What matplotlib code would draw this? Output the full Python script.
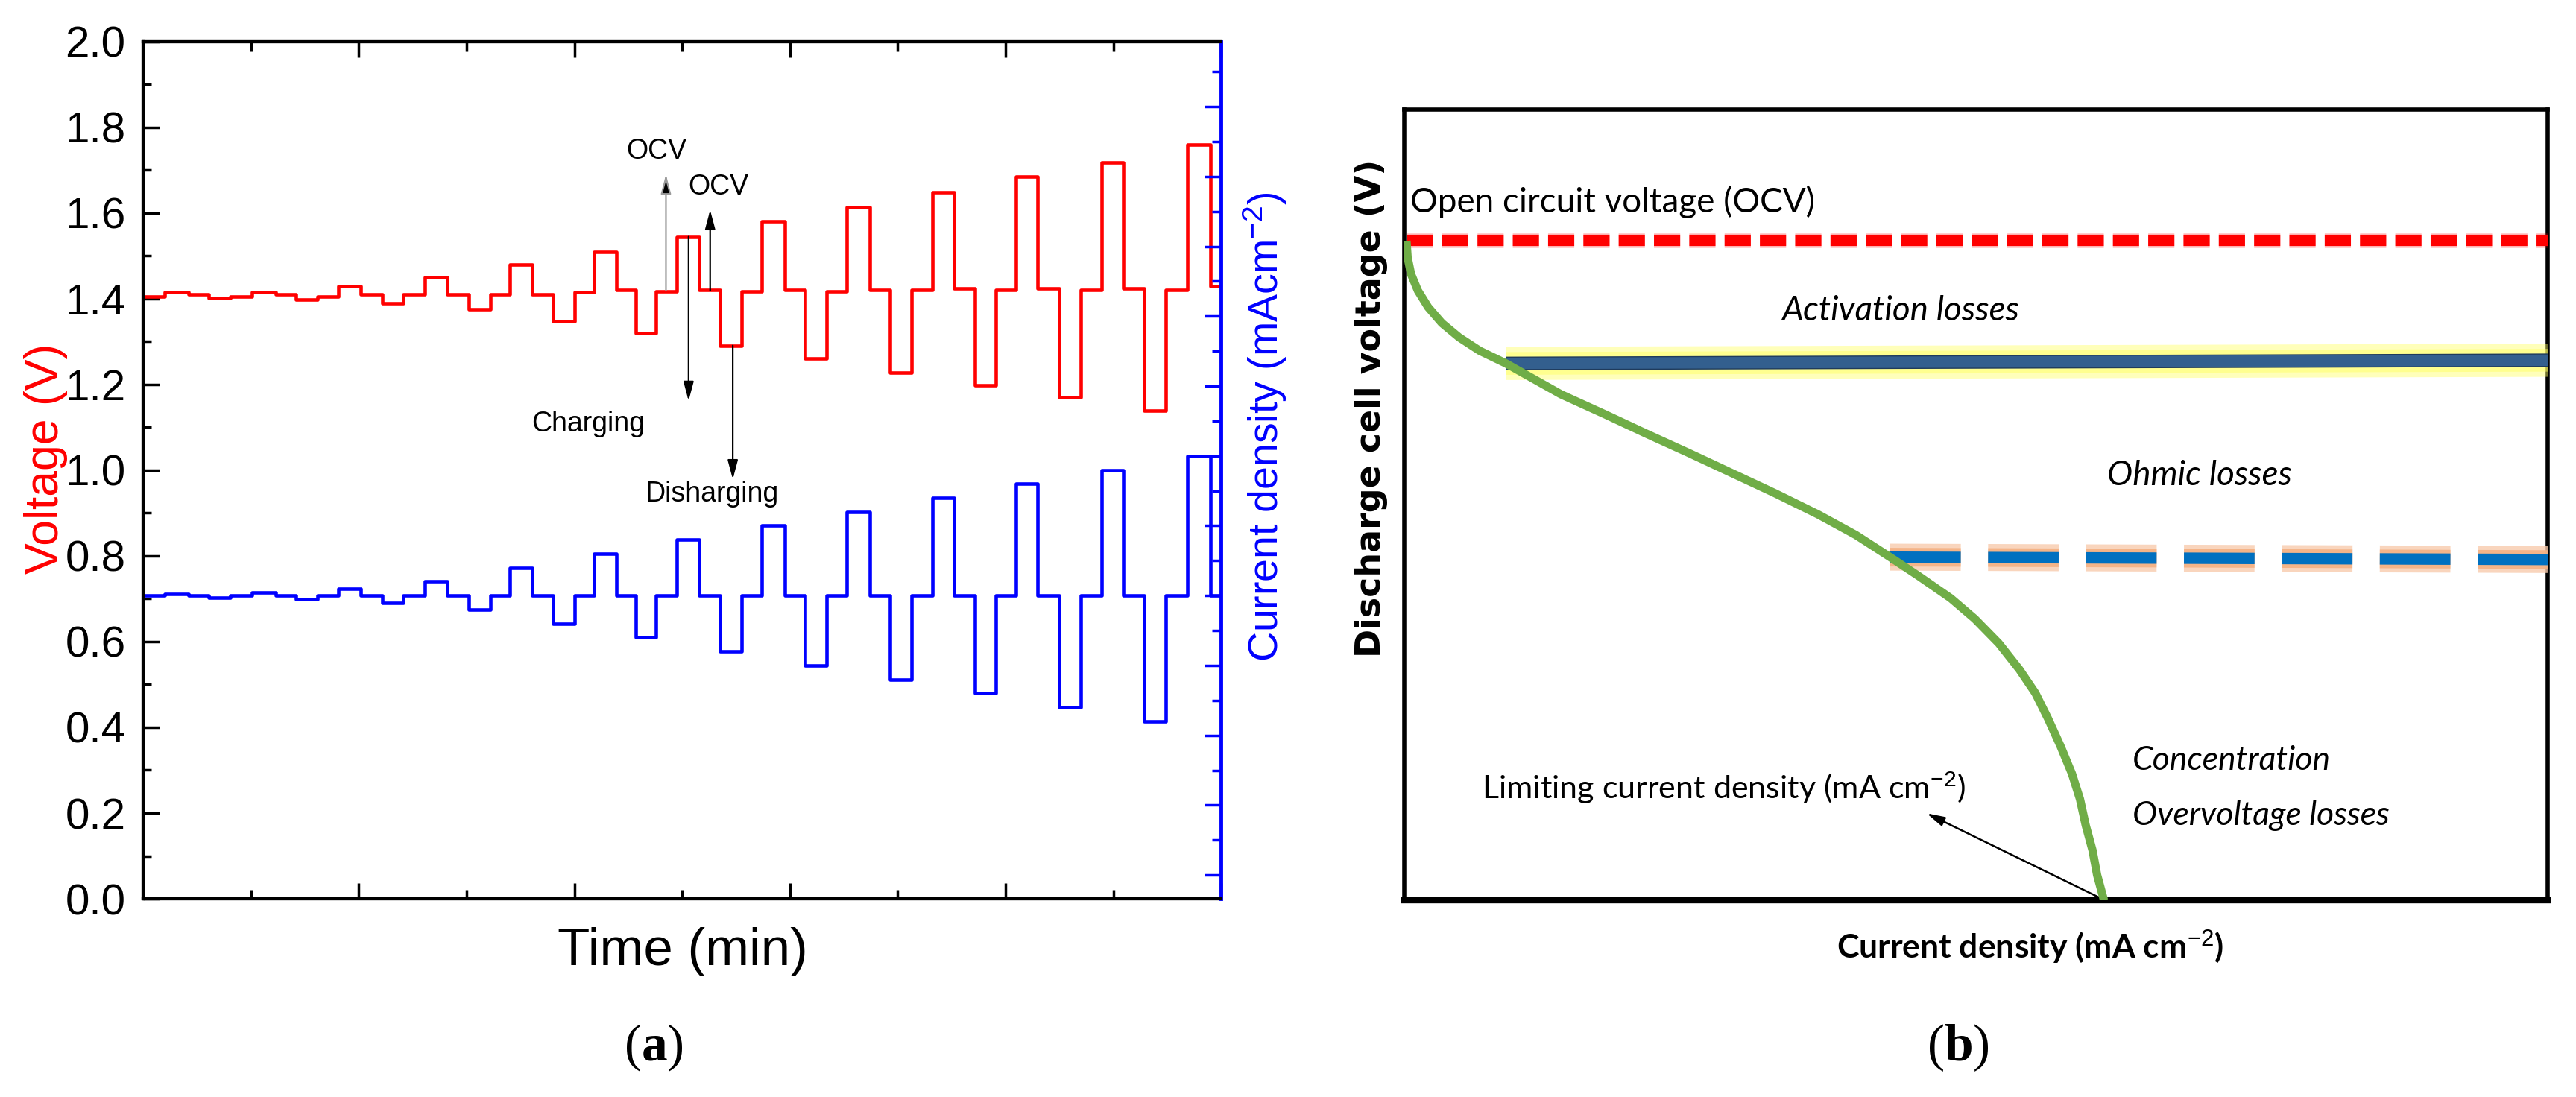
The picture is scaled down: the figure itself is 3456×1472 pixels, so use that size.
import matplotlib
matplotlib.use("Agg")
import matplotlib.pyplot as plt
import matplotlib.patheffects as pe
from matplotlib.ticker import MultipleLocator, FormatStrFormatter

# ---------------- panel (a): step test, time axis in arbitrary minutes 0-100
charge_on = [2.0, 10.1, 18.1, 26.1, 34.0, 41.8, 49.5, 57.4, 65.3, 73.2, 81.0, 88.9, 96.9]
charge_off = [4.2, 12.3, 20.2, 28.2, 36.1, 43.9, 51.6, 59.5, 67.4, 75.2, 83.0, 90.9, 99.0]
discharge_on = [6.1, 14.2, 22.2, 30.2, 38.0, 45.7, 53.5, 61.4, 69.3, 77.2, 85.0, 92.9]
discharge_off = [8.1, 16.2, 24.1, 32.2, 40.0, 47.6, 55.5, 63.4, 71.3, 79.1, 87.0, 94.9]

v_start = 1.405
v_charge = [1.415, 1.415, 1.43, 1.45, 1.48, 1.51, 1.545, 1.58, 1.613, 1.649, 1.685, 1.718, 1.76]
v_rest_after_charge = [1.41, 1.41, 1.41, 1.41, 1.41, 1.42, 1.42, 1.42, 1.42, 1.425, 1.425, 1.425, 1.43]
v_discharge = [1.402, 1.398, 1.39, 1.375, 1.348, 1.32, 1.291, 1.26, 1.227, 1.199, 1.171, 1.139]
v_rest_after_discharge = [1.405, 1.405, 1.41, 1.41, 1.415, 1.418, 1.418, 1.418, 1.42, 1.42, 1.42, 1.42]

# current density steps (mA cm-2), same magnitude for charge and discharge
i_step = [0.25, 0.5, 1, 2, 4, 6, 8, 10, 12, 14, 16, 18, 20]

ocv_notes = [(48.5, 1.419, 1.690, 47.6, 1.744, '#9a9a9a'), (52.6, 1.419, 1.607, 53.4, 1.661, 'black')]

# ---------------- panel (b): schematic polarisation curve (axes fraction units)
pol_current = [0.002, 0.003, 0.006, 0.012, 0.021, 0.033, 0.048, 0.066, 0.089, 0.137,
               0.175, 0.212, 0.250, 0.287, 0.324, 0.362, 0.395, 0.425, 0.450, 0.478,
               0.499, 0.520, 0.538, 0.552, 0.563, 0.574, 0.584, 0.591, 0.596, 0.602,
               0.606, 0.612]
pol_voltage = [0.834, 0.813, 0.792, 0.771, 0.750, 0.730, 0.712, 0.695, 0.679, 0.640,
               0.615, 0.590, 0.565, 0.540, 0.515, 0.488, 0.462, 0.434, 0.410, 0.382,
               0.356, 0.325, 0.292, 0.262, 0.230, 0.195, 0.160, 0.128, 0.095, 0.063,
               0.032, 0.000]
ocv_level = 0.835
act_x, act_y = [0.089, 1.0], [0.679, 0.683]
ohm_x, ohm_y = [0.425, 1.0], [0.434, 0.431]
limit_current = 0.610

plt.rcParams['font.family'] = ['Liberation Sans', 'DejaVu Sans']
plt.rcParams['mathtext.fontset'] = 'custom'
plt.rcParams['mathtext.rm'] = 'Liberation Sans'
plt.rcParams['mathtext.it'] = 'Liberation Sans:italic'
plt.rcParams['mathtext.bf'] = 'Liberation Serif:bold'

fig = plt.figure(figsize=(34.56, 14.72), dpi=100)

# build step series
t, v, cur = [0.0], [v_start], [0.0]
for k in range(len(charge_on)):
    t += [charge_on[k], charge_off[k]]
    v += [v_charge[k], v_rest_after_charge[k]]
    cur += [i_step[k], 0.0]
    if k < len(discharge_on):
        t += [discharge_on[k], discharge_off[k]]
        v += [v_discharge[k], v_rest_after_discharge[k]]
        cur += [-i_step[k], 0.0]
t.append(100.0)
v.append(v[-1])
cur.append(0.0)

ax = fig.add_axes([0.0556, 0.1807, 0.4184, 0.7813])
ax2 = ax.twinx()
ax.plot(t, v, drawstyle='steps-post', color='#ff0000', lw=3.3)
ax2.plot(t, cur, drawstyle='steps-post', color='#0000ff', lw=3.3)

ax.set_xlim(0, 100)
ax.set_ylim(0, 2.0)
ax2.set_ylim(-43.4, 79.3)
ax.xaxis.set_major_locator(MultipleLocator(20))
ax.xaxis.set_minor_locator(MultipleLocator(10))
ax.yaxis.set_major_locator(MultipleLocator(0.2))
ax.yaxis.set_minor_locator(MultipleLocator(0.1))
ax.yaxis.set_major_formatter(FormatStrFormatter('%.1f'))
ax2.yaxis.set_major_locator(MultipleLocator(10))
ax2.yaxis.set_minor_locator(MultipleLocator(5))

ax.tick_params(axis='x', which='both', direction='in', top=True, bottom=True,
               labelbottom=False, width=2.5)
ax.tick_params(axis='x', which='major', length=15)
ax.tick_params(axis='x', which='minor', length=9)
ax.tick_params(axis='y', which='both', direction='in', right=False, width=2.5)
ax.tick_params(axis='y', which='major', length=16, labelsize=42, pad=17)
ax.tick_params(axis='y', which='minor', length=8)
ax2.tick_params(axis='y', which='both', direction='in', colors='#0000ff', labelright=False, width=2.5)
ax2.tick_params(axis='y', which='major', length=16)
ax2.tick_params(axis='y', which='minor', length=9)
for s in ['left', 'top', 'bottom']:
    ax.spines[s].set_linewidth(3)
    ax2.spines[s].set_linewidth(3)
ax2.spines['right'].set_color('#0000ff')
ax2.spines['right'].set_linewidth(3.5)

for xa, y0, y1, xt, yt, lc in ocv_notes:
    ax.annotate('', xy=(xa, y1), xytext=(xa, y0),
                arrowprops=dict(arrowstyle='-|>,head_length=0.6,head_width=0.16',
                                mutation_scale=26, ec=lc, fc='black', lw=1.6, shrinkA=0, shrinkB=0))
    ax.text(xt, yt, 'OCV', fontsize=27, ha='center', va='center')

ax.annotate('', xy=(50.6, 1.162), xytext=(50.6, 1.545),
            arrowprops=dict(arrowstyle='-|>,head_length=0.6,head_width=0.16',
                            mutation_scale=26, color='black', lw=1.6, shrinkA=0, shrinkB=0))
ax.annotate('', xy=(54.7, 0.979), xytext=(54.7, 1.291),
            arrowprops=dict(arrowstyle='-|>,head_length=0.6,head_width=0.16',
                            mutation_scale=26, color='black', lw=1.6, shrinkA=0, shrinkB=0))
ax.text(41.3, 1.108, 'Charging', fontsize=27, ha='center', va='center')
ax.text(52.8, 0.945, 'Disharging', fontsize=27, ha='center', va='center')

fig.text(0.0179, 0.582, 'Voltage (V)', color='#ff0000', fontsize=45,
         rotation=90, ha='center', va='center')
fig.text(0.491, 0.611, 'Current density (mAcm$^{-2}$)', color='#0000ff', fontsize=40,
         rotation=90, ha='center', va='center')
fig.text(0.265, 0.1325, 'Time (min)', fontsize=51, ha='center', va='center')
fig.text(0.2538, 0.045, r'($\mathbf{a}$)', fontsize=50, ha='center', va='center',
         family='Liberation Serif')

# ---------------- panel (b)
narrow = ['Lato', 'DejaVu Sans']
axb = fig.add_axes([0.5451, 0.1793, 0.4439, 0.7208])
axb.set_xlim(0, 1)
axb.set_ylim(0, 1)
axb.set_xticks([])
axb.set_yticks([])
for s in ['left', 'top', 'right']:
    axb.spines[s].set_linewidth(4)
axb.spines['bottom'].set_linewidth(6)

axb.plot([0.002, 1.0], [ocv_level, ocv_level], color='#ff0000', lw=11,
         dashes=(2.3, 0.8), dash_capstyle='butt', zorder=3,
         path_effects=[pe.Stroke(linewidth=15, foreground='#ff0000', alpha=0.2), pe.Normal()])
axb.plot(act_x, act_y, color='#335f8e', lw=11, solid_capstyle='butt', zorder=3,
         path_effects=[pe.Stroke(linewidth=32, foreground='#ffff66', alpha=0.45),
                       pe.Stroke(linewidth=22, foreground='#ffff66', alpha=0.5),
                       pe.Stroke(linewidth=13, foreground='#1f3b5c'), pe.Normal()])
axb.plot(ohm_x, ohm_y, color='#0070c0', lw=11, dashes=(6.2, 2.4), dash_capstyle='butt', zorder=3,
         path_effects=[pe.Stroke(linewidth=26, foreground='#f8cbad', alpha=0.8),
                       pe.Stroke(linewidth=18, foreground='#f4b183', alpha=0.9), pe.Normal()])
axb.plot(pol_current, pol_voltage, color='#70ad47', lw=8, solid_capstyle='butt',
         solid_joinstyle='round', zorder=4)

axb.annotate('', xy=(0.457, 0.110), xytext=(limit_current, 0.002),
             arrowprops=dict(arrowstyle='-|>,head_length=0.6,head_width=0.16',
                             mutation_scale=24, color='black', lw=1.8, shrinkA=0, shrinkB=0))

axb.text(0.005, 0.870, 'Open circuit voltage (OCV)', fontsize=33, family=narrow,
         ha='left', va='baseline')
axb.text(0.330, 0.733, 'Activation losses', fontsize=33, family=narrow, style='italic',
         ha='left', va='baseline')
axb.text(0.615, 0.525, 'Ohmic losses', fontsize=33, family=narrow, style='italic',
         ha='left', va='baseline')
axb.text(0.637, 0.165, 'Concentration', fontsize=32, family=narrow, style='italic',
         ha='left', va='baseline')
axb.text(0.637, 0.095, 'Overvoltage losses', fontsize=32, family=narrow, style='italic',
         ha='left', va='baseline')
axb.text(0.068, 0.128, 'Limiting current density (mA cm$^{-2}$)', fontsize=31, family=narrow,
         ha='left', va='baseline')

fig.text(0.5324, 0.628, 'Discharge cell voltage (V)', fontsize=33, fontweight='bold',
         family='DejaVu Sans', rotation=90, ha='center', va='center')
fig.text(0.788, 0.126, 'Current density (mA cm$^{-2}$)', fontsize=32, fontweight='bold',
         family=narrow, ha='center', va='baseline')
fig.text(0.7601, 0.045, r'($\mathbf{b}$)', fontsize=50, ha='center', va='center',
         family='Liberation Serif')

fig.savefig('out.png', dpi=100)
